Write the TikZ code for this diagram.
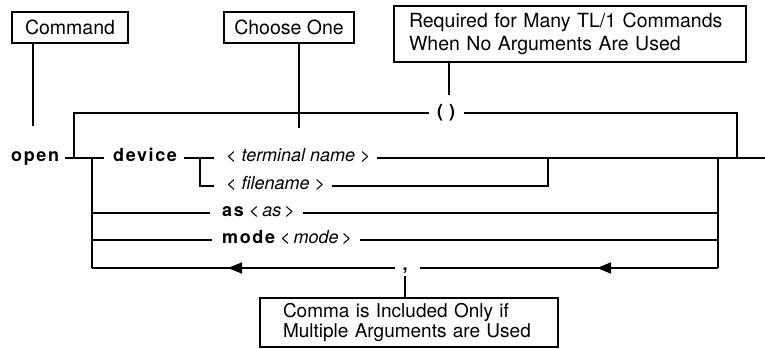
\documentclass[tikz,border=0pt]{standalone}
\usepackage{fontspec}
\setmainfont{TeX Gyre Heros}
\newfontfamily\widefont{TeX Gyre Heros}[LetterSpace=9]
\usetikzlibrary{arrows.meta,calc,decorations.markings}
\begin{document}
\begin{tikzpicture}[x=1pt,y={(0,-1pt)},
  rail/.style={line width=1.6pt},
  note/.style={draw,line width=1.6pt,inner sep=0pt,font=\fontsize{19.5}{21}\selectfont},
  kw/.style={inner sep=0pt,anchor=base west,font=\fontsize{18}{20}\selectfont},
  larrow/.style={postaction={decorate},decoration={markings,mark=at position #1 with {\arrow{Triangle[length=14pt,width=11pt]}}}}
]
\useasboundingbox (0,0) rectangle (765,348);
% annotation boxes
\node[note,minimum width=116pt,minimum height=31pt] (cmd) at (70,27.5) {Command};
\node[note,minimum width=130pt,minimum height=31pt] (one) at (289,27.5) {Choose One};
\node[note,minimum width=352pt,minimum height=56pt,text width=322pt,align=left,font=\fontsize{19.5}{22.5}\selectfont] (req) at (570,34) {Required for Many TL/1 Commands\\When No Arguments Are Used};
\node[note,minimum width=298pt,minimum height=49pt,text width=252pt,align=left,font=\fontsize{19}{20}\selectfont] (cbox) at (409,322.5) {Comma is Included Only if\\Multiple Arguments are Used};
% keyword / argument texts
\node[kw] (open) at (11,161) {\widefont\bfseries open};
\node[kw] (dev) at (113,161) {\widefont\bfseries device};
\node[kw] (term) at (226,161) {\itshape < terminal name >};
\node[kw] (file) at (226,189) {\itshape < filename >};
\node[kw] (as) at (222,216) {{\widefont\bfseries as} \itshape<\,as\,>};
\node[kw] (mode) at (222,243) {{\widefont\bfseries mode} \itshape<\,mode\,>};
\node[inner sep=0pt,font=\fontsize{18}{20}\selectfont\bfseries] (par) at (446,113) {(\hspace{6pt})};
\node[inner sep=0pt,anchor=base,font=\fontsize{18}{20}\selectfont\bfseries] (comma) at (405,270) {,};
% junction coordinates
\coordinate (jA) at (74,158);
\coordinate (jB) at (92,158);
\coordinate (jC) at (200,158);
\coordinate (jD) at (548,158);
\coordinate (jE) at (718,158);
\coordinate (jF) at (737,158);
\coordinate (endR) at (765,158);
\coordinate (topY) at (0,113);
\coordinate (fileY) at (0,186);
\coordinate (asY) at (0,213);
\coordinate (modeY) at (0,240);
\coordinate (botY) at (0,268);
\coordinate (cmdEnd) at (33,126);
\coordinate (oneEnd) at (299,128);
\coordinate (reqEnd) at (449,95);
% callout connectors
\draw[rail] (cmd.south -| cmdEnd) -- (cmdEnd);
\draw[rail] (one.south -| oneEnd) -- (oneEnd);
\draw[rail] (req.south -| reqEnd) -- (reqEnd);
\draw[rail] (cbox.north -| comma) -- ($(comma.base)+(0,6)$);
% main line
\draw[rail] ($(open.base east)+(6,-3)$) -- ($(dev.base west)+(-9,-3)$);
\draw[rail] ($(dev.base east)+(7,-3)$) -- ($(term.base west)+(-12,-3)$);
\draw[rail] ($(term.base east)+(6,-3)$) -- (endR);
% top loop with ( )
\draw[rail] (jA) |- ($(topY -| par.west)+(-8,0)$);
\draw[rail] ($(topY -| par.east)+(9,0)$) -| (jF);
% device choice
\draw[rail] (jC) |- ($(fileY -| file.west)+(-12,0)$);
\draw[rail] ($(fileY -| file.east)+(7,0)$) -| (jD);
% left branch
\draw[rail] (jB) -- (jB |- botY);
\draw[rail] (jB |- asY) -- ($(asY -| as.west)+(-12,0)$);
\draw[rail] ($(asY -| as.east)+(8,0)$) -- (jE |- asY);
\draw[rail] (jB |- modeY) -- ($(modeY -| mode.west)+(-10,0)$);
\draw[rail] ($(modeY -| mode.east)+(8,0)$) -- (jE |- modeY);
\draw[rail] (jE) -- (jE |- botY);
% bottom repeat line with comma
\draw[rail,larrow=121pt] (jE |- botY) -- ($(botY -| comma)+(15,0)$);
\draw[rail,larrow=167pt] ($(botY -| comma)+(-10,0)$) -- (jB |- botY);
\end{tikzpicture}
\end{document}
